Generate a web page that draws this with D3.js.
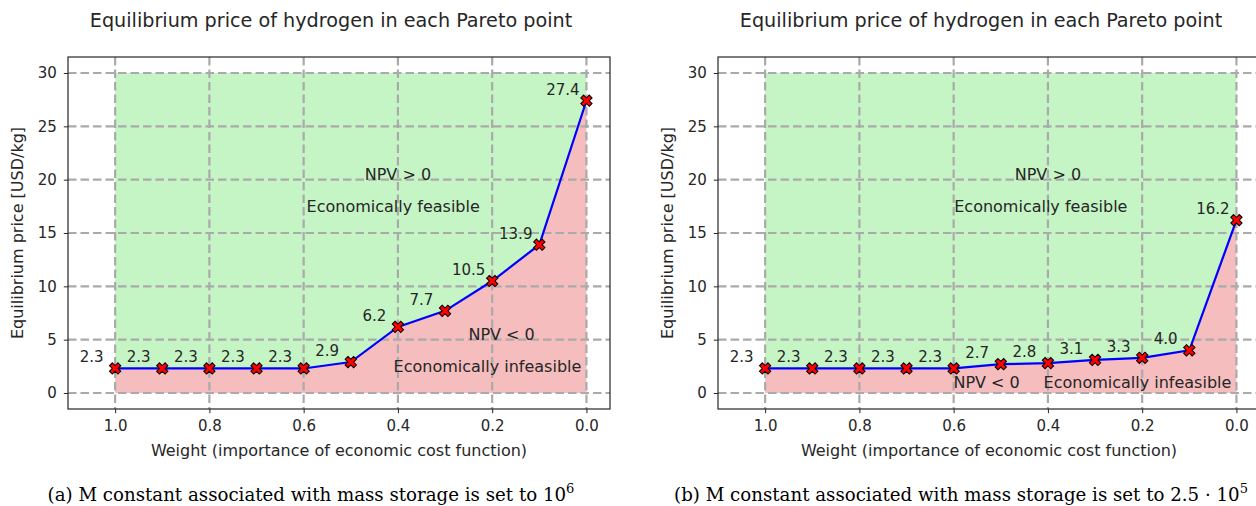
<!DOCTYPE html>
<html>
<head>
<meta charset="utf-8">
<script src="https://cdn.jsdelivr.net/npm/d3@7"></script>
<style>
  body { margin: 0; background: #fff; }
  svg text { font-family: "DejaVu Sans", sans-serif; fill: #262626; }
  .caption { font-family: "DejaVu Serif", serif; fill: #000; }
</style>
</head>
<body>
<svg id="chart" width="1256" height="506"></svg>
<script>
// weights (x axis), shared by both panels
const weights = [1.0, 0.9, 0.8, 0.7, 0.6, 0.5, 0.4, 0.3, 0.2, 0.1, 0.0]

// equilibrium price per Pareto point
const priceA = [2.3, 2.3, 2.3, 2.3, 2.3, 2.9, 6.2, 7.7, 10.5, 13.9, 27.4]
const priceB = [2.3, 2.3, 2.3, 2.3, 2.3, 2.7, 2.8, 3.1, 3.3, 4.0, 16.2]

const xTicks = [1.0, 0.8, 0.6, 0.4, 0.2, 0.0]
const yTicks = [0, 5, 10, 15, 20, 25, 30]

const title = "Equilibrium price of hydrogen in each Pareto point"
const xLabel = "Weight (importance of economic cost function)"
const yLabel = "Equilibrium price [USD/kg]"

// text notes, in data coordinates [weight, price, text]
const notesA = [
    [0.4, 20, "NPV > 0"],
    [0.41, 17, "Economically feasible"],
    [0.18, 5, "NPV < 0"],
    [0.21, 2, "Economically infeasible"]
]
const notesB = [
    [0.4, 20, "NPV > 0"],
    [0.415, 17, "Economically feasible"],
    [0.53, 0.5, "NPV < 0"],
    [0.21, 0.5, "Economically infeasible"]
]

const svg = d3.select("#chart")

function drawPanel(opts) {
    const { left, top, width, height, values, notes, caption, capX } = opts

    const x = d3.scaleLinear().domain([1.1, -0.05]).range([left, left + width])
    const y = d3.scaleLinear().domain([-1.5, 31.5]).range([top + height, top])

    const g = svg.append("g")

    const pts = weights.map((w, i) => ({ w: w, v: values[i] }))

    const clipId = "clip" + left
    g.append("clipPath").attr("id", clipId)
        .append("rect")
        .attr("x", left).attr("y", top)
        .attr("width", width).attr("height", height)

    const plot = g.append("g").attr("clip-path", `url(#${clipId})`)

    // green area: between the line and 30
    plot.append("path")
        .datum(pts)
        .attr("fill", "#c5f5c5")
        .attr("d", d3.area().x(d => x(d.w)).y0(y(30)).y1(d => y(d.v)))

    // red area: between 0 and the line
    plot.append("path")
        .datum(pts)
        .attr("fill", "#f5bdbd")
        .attr("d", d3.area().x(d => x(d.w)).y0(y(0)).y1(d => y(d.v)))

    // grid
    plot.selectAll(".gx")
        .data(xTicks)
        .join("line")
        .attr("x1", d => x(d)).attr("x2", d => x(d))
        .attr("y1", top).attr("y2", top + height)
        .attr("stroke", "#aaaaaa").attr("stroke-width", 2.2)
        .attr("stroke-dasharray", "8.5,4")

    plot.selectAll(".gy")
        .data(yTicks)
        .join("line")
        .attr("y1", d => y(d)).attr("y2", d => y(d))
        .attr("x1", left).attr("x2", left + width)
        .attr("stroke", "#aaaaaa").attr("stroke-width", 2.2)
        .attr("stroke-dasharray", "8.5,4")

    // line
    plot.append("path")
        .datum(pts)
        .attr("fill", "none")
        .attr("stroke", "#0000ff")
        .attr("stroke-width", 2.2)
        .attr("d", d3.line().x(d => x(d.w)).y(d => y(d.v)))

    // markers
    const marker = d3.symbol().type(d3.symbolCross).size(80)
    plot.selectAll(".mk")
        .data(pts)
        .join("path")
        .attr("d", marker)
        .attr("transform", d => `translate(${x(d.w)},${y(d.v)}) rotate(45)`)
        .attr("fill", "#ff0000")
        .attr("stroke", "#000")
        .attr("stroke-width", 1)

    // value labels
    g.selectAll(".val")
        .data(pts)
        .join("text")
        .attr("x", d => x(d.w + 0.05))
        .attr("y", d => y(d.v) - 6)
        .attr("text-anchor", "middle")
        .attr("font-size", 15)
        .text(d => d.v.toFixed(1))

    // notes
    g.selectAll(".note")
        .data(notes)
        .join("text")
        .attr("x", d => x(d[0]))
        .attr("y", d => y(d[1]))
        .attr("text-anchor", "middle")
        .attr("font-size", 16)
        .text(d => d[2])

    // axes
    const xAxis = g.append("g")
        .attr("transform", `translate(0,${top + height})`)
        .call(d3.axisBottom(x).tickValues(xTicks).tickFormat(d3.format(".1f")).tickSizeOuter(0).tickSize(4.2).tickPadding(7))
    const yAxis = g.append("g")
        .attr("transform", `translate(${left},0)`)
        .call(d3.axisLeft(y).tickValues(yTicks).tickSizeOuter(0).tickSize(4.2).tickPadding(7))

    for (const ax of [xAxis, yAxis]) {
        ax.select(".domain").remove()
        ax.selectAll("line").attr("stroke", "#262626")
        ax.selectAll("text").attr("font-size", 15).attr("fill", "#262626")
            .style("font-family", "DejaVu Sans")
    }

    // frame
    g.append("rect")
        .attr("x", left).attr("y", top)
        .attr("width", width).attr("height", height)
        .attr("fill", "none").attr("stroke", "#262626").attr("stroke-width", 1.2)

    g.append("text")
        .attr("x", left + width / 2 - 8)
        .attr("y", 27)
        .attr("text-anchor", "middle")
        .attr("font-size", 19.2)
        .text(title)

    g.append("text")
        .attr("x", left + width / 2)
        .attr("y", 456)
        .attr("text-anchor", "middle")
        .attr("font-size", 16)
        .text(xLabel)

    g.append("text")
        .attr("transform", `translate(${left - 45},${top + height / 2}) rotate(-90)`)
        .attr("text-anchor", "middle")
        .attr("font-size", 16)
        .text(yLabel)

    const cap = g.append("text")
        .attr("class", "caption")
        .attr("x", capX)
        .attr("y", 501)
        .attr("text-anchor", "middle")
        .attr("font-size", 18.2)
    cap.append("tspan").text(caption[0])
    cap.append("tspan").attr("font-size", 13).attr("dy", -8).text(caption[1])
}

drawPanel({ left: 68, top: 57, width: 542, height: 352, values: priceA, notes: notesA,
    caption: ["(a) M constant associated with mass storage is set to 10", "6"], capX: 311 })
drawPanel({ left: 718, top: 57, width: 542, height: 352, values: priceB, notes: notesB,
    caption: ["(b) M constant associated with mass storage is set to 2.5 · 10", "5"], capX: 961 })
</script>
</body>
</html>
